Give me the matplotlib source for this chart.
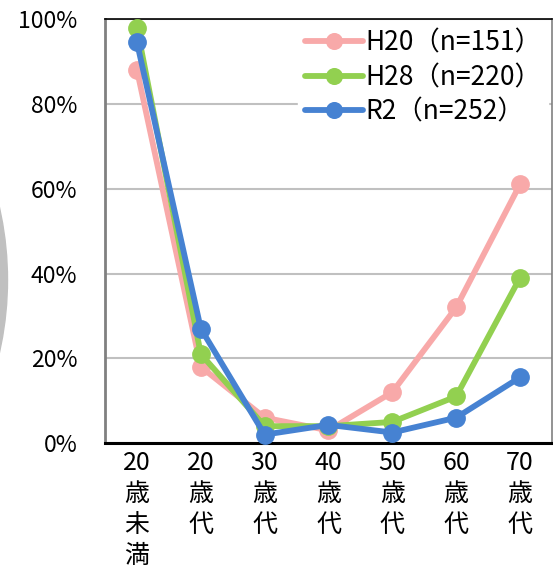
import matplotlib
matplotlib.use("Agg")
import matplotlib.pyplot as plt
from matplotlib.patches import Ellipse

plt.rcParams['font.family'] = ['Noto Sans CJK JP', 'DejaVu Sans']

# 年代区分
ages = ["20\n歳\n未\n満", "20\n歳\n代", "30\n歳\n代", "40\n歳\n代",
        "50\n歳\n代", "60\n歳\n代", "70\n歳\n代"]
# 各調査の割合 (%)
h20 = [88, 18, 6, 3, 12, 32, 61]
h28 = [98, 21, 4, 4, 5, 11, 39]
r2 = [94.5, 27, 2, 4.3, 2.5, 6, 15.5]
names = ["H20（n=151）", "H28（n=220）", "R2（n=252）"]
yticks = [0, 20, 40, 60, 80, 100]

W, H = 553, 580
fig = plt.figure(figsize=(W / 100, H / 100), dpi=100)
ax = fig.add_axes([0.19, 0.236, 0.808, 0.731])

# 左端の灰色の円弧（背景の図形の一部）
r = 330
fig.patches.append(Ellipse(((7.5 - r) / W, 1 - 280 / H), 2 * r / W, 2 * r / H,
                           transform=fig.transFigure, color="#c0c0c0",
                           zorder=0))

x = range(len(ages))
cols = ["#f8a9a9", "#92d050", "#4682d2"]
for vals, name, c in zip([h20, h28, r2], names, cols):
    ax.plot(x, vals, color=c, lw=4.2, marker="o", ms=12.5,
            solid_capstyle="round", label=name, clip_on=False, zorder=3)

ax.set_xlim(-0.5, 6.5)
ax.set_ylim(0, 100)
ax.set_yticks(yticks)
ax.set_yticklabels([f"{v}%" for v in yticks], fontsize=16.5)
ax.set_xticks(list(x))
ax.set_xticklabels(ages, fontsize=18, linespacing=1.25)
ax.tick_params(length=0)
ax.tick_params(axis="y", pad=20)
ax.tick_params(axis="x", pad=5)
ax.grid(axis="y", color="#c0c0c0", lw=1.5)
ax.set_axisbelow(True)

ax.spines["left"].set_color("#808080")
ax.spines["left"].set_linewidth(2)
ax.spines["bottom"].set_color("black")
ax.spines["bottom"].set_linewidth(2.2)
ax.spines["top"].set_color("black")
ax.spines["top"].set_linewidth(1.2)
ax.spines["right"].set_color("#808080")
ax.spines["right"].set_linewidth(1.2)

ax.legend(loc="upper right", fontsize=19, frameon=True,
          fancybox=False, framealpha=1, edgecolor="white",
          handlelength=2.2, handletextpad=0.1, labelspacing=0.28,
          borderaxespad=0.15, borderpad=0.25, markerscale=0.9)

fig.savefig("out.png", dpi=100)
